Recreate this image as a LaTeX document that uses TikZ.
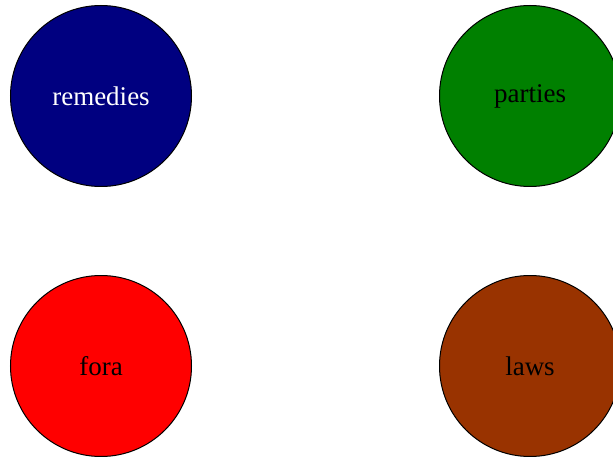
\documentclass[tikz,border=0pt]{standalone}
\usepackage{fontspec}
\setmainfont{Liberation Serif}
\usetikzlibrary{positioning}
\definecolor{remCol}{RGB}{0,0,128}
\definecolor{parCol}{RGB}{0,128,0}
\definecolor{forCol}{RGB}{255,0,0}
\definecolor{lawCol}{RGB}{153,51,0}

\begin{document}
\begin{tikzpicture}[
  x=1pt, y=1pt,
  topic/.style n args={2}{circle, draw=black, line width=1pt, fill=#1, text=#2,
    minimum size=181pt, inner sep=0pt, font=\fontsize{27}{30}\selectfont},
]
\useasboundingbox (0,0) rectangle (613,-457);
% top row
\node[topic={remCol}{white}] (remedies) at (101,-96) {remedies};
\node[topic={parCol}{black}] (parties) at (530,-96) {parties};
% bottom row
\node[topic={forCol}{black}] (fora) at (101,-366) {fora};
\node[topic={lawCol}{black}] (laws) at (530,-366) {laws};
\end{tikzpicture}
\end{document}
